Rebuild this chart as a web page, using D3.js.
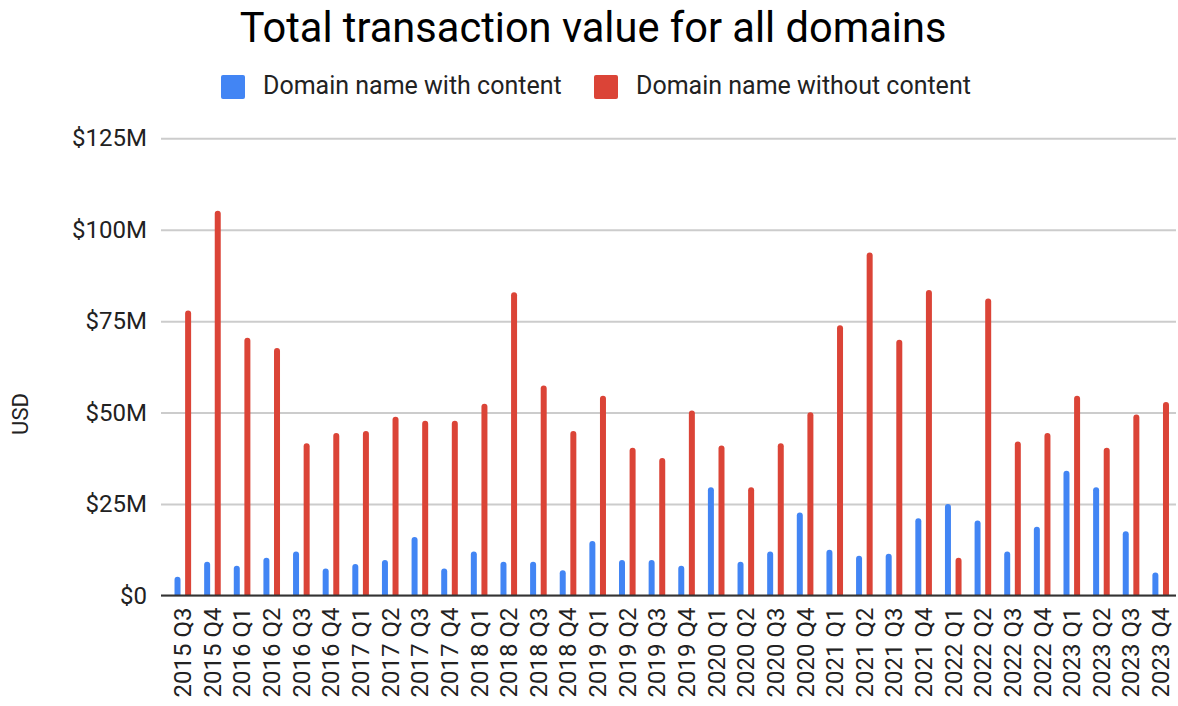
<!DOCTYPE html>
<html>
<head>
<meta charset="utf-8">
<script src="https://cdn.jsdelivr.net/npm/d3@7"></script>
<style>
  body { margin: 0; background: #fff; }
  svg { font-family: Roboto, "Noto Sans", sans-serif; }
</style>
</head>
<body>
<script>
// quarters on the x axis
var quarters = ['2015 Q3', '2015 Q4',
    '2016 Q1', '2016 Q2', '2016 Q3', '2016 Q4',
    '2017 Q1', '2017 Q2', '2017 Q3', '2017 Q4',
    '2018 Q1', '2018 Q2', '2018 Q3', '2018 Q4',
    '2019 Q1', '2019 Q2', '2019 Q3', '2019 Q4',
    '2020 Q1', '2020 Q2', '2020 Q3', '2020 Q4',
    '2021 Q1', '2021 Q2', '2021 Q3', '2021 Q4',
    '2022 Q1', '2022 Q2', '2022 Q3', '2022 Q4',
    '2023 Q1', '2023 Q2', '2023 Q3', '2023 Q4'];

// millions of USD
var withContent = [5.1, 9.2,
    8.1, 10.3, 12.0, 7.4,
    8.6, 9.7, 16.0, 7.4,
    12.0, 9.2, 9.2, 6.9,
    14.9, 9.7, 9.7, 8.1,
    29.6, 9.2, 12.0, 22.7,
    12.5, 10.9, 11.4, 21.1,
    25.0, 20.5, 12.0, 18.8,
    34.1, 29.6, 17.6, 6.3];

var withoutContent = [77.9, 105.2,
    70.5, 67.7, 41.6, 44.4,
    45.0, 48.9, 47.8, 47.8,
    52.4, 82.9, 57.4, 45.0,
    54.6, 40.4, 37.6, 50.6,
    41.0, 29.6, 41.6, 50.1,
    73.9, 93.8, 69.9, 83.5,
    10.3, 81.2, 42.1, 44.4,
    54.6, 40.4, 49.5, 52.9];

var yTicks = [0, 25, 50, 75, 100, 125];
var yTickLabels = ['$0', '$25M', '$50M', '$75M', '$100M', '$125M'];
var seriesNames = ['Domain name with content', 'Domain name without content'];
var colors = ['#4285f4', '#db4437'];

var svg = d3.select('body').append('svg')
    .attr('width', 1178)
    .attr('height', 706);

var x = d3.scaleBand()
    .domain(quarters)
    .range([168, 1175.5]);

var y = d3.scaleLinear()
    .domain([0, 125])
    .range([595.5, 138.3]);

// title
svg.append('text')
    .attr('x', 593)
    .attr('y', 42)
    .attr('text-anchor', 'middle')
    .attr('font-size', 41.6)
    .attr('fill', '#000')
    .text('Total transaction value for all domains');

// legend
var legendX = [221, 594];
seriesNames.forEach(function(name, i) {
    svg.append('rect')
        .attr('x', legendX[i])
        .attr('y', 75)
        .attr('width', 24)
        .attr('height', 24)
        .attr('rx', 2)
        .attr('fill', colors[i]);
    svg.append('text')
        .attr('x', legendX[i] + 42)
        .attr('y', 94)
        .attr('font-size', 25)
        .attr('fill', '#222')
        .text(name);
});

// y axis + gridlines
var yAxis = svg.append('g')
    .attr('transform', 'translate(161,0)')
    .call(d3.axisLeft(y)
        .tickValues(yTicks)
        .tickSize(-(1176 - 161))
        .tickPadding(14)
        .tickFormat(function(d, i) { return yTickLabels[i]; }));
yAxis.select('.domain').remove();
yAxis.selectAll('line')
    .attr('stroke', '#cccccc')
    .attr('stroke-width', 2);
yAxis.selectAll('text')
    .attr('font-size', 24)
    .attr('font-family', 'Roboto')
    .attr('fill', '#222');

svg.append('text')
    .attr('transform', 'translate(28,414) rotate(-90)')
    .attr('text-anchor', 'middle')
    .attr('font-size', 22)
    .attr('fill', '#222')
    .text('USD');

// bars with rounded tops
function barPath(cx, w, v) {
    var x0 = cx - w / 2, y0 = y(v), y1 = y(0), r = 3;
    return 'M' + x0 + ',' + y1 +
        'V' + (y0 + r) +
        'Q' + x0 + ',' + y0 + ' ' + (x0 + r) + ',' + y0 +
        'H' + (x0 + w - r) +
        'Q' + (x0 + w) + ',' + y0 + ' ' + (x0 + w) + ',' + (y0 + r) +
        'V' + y1 + 'Z';
}

var offsets = [-5.3, 5.3];
[withContent, withoutContent].forEach(function(series, s) {
    svg.append('g').selectAll('path')
        .data(series)
        .enter().append('path')
        .attr('d', function(d, i) {
            return barPath(x(quarters[i]) + x.bandwidth() / 2 + offsets[s], 6, d);
        })
        .attr('fill', colors[s]);
});

// baseline
svg.append('line')
    .attr('x1', 161)
    .attr('x2', 1176)
    .attr('y1', y(0))
    .attr('y2', y(0))
    .attr('stroke', '#333')
    .attr('stroke-width', 2);

// x axis labels
var xAxis = svg.append('g')
    .attr('transform', 'translate(0,' + y(0) + ')')
    .call(d3.axisBottom(x).tickSize(0).tickPadding(0));
xAxis.select('.domain').remove();
xAxis.selectAll('text')
    .attr('font-size', 24)
    .attr('font-family', 'Roboto')
    .attr('fill', '#222')
    .attr('text-anchor', 'end')
    .attr('dy', '0.35em')
    .attr('transform', 'translate(0,12) rotate(-90)')
    .attr('x', 0)
    .attr('y', 0);
</script>
</body>
</html>
